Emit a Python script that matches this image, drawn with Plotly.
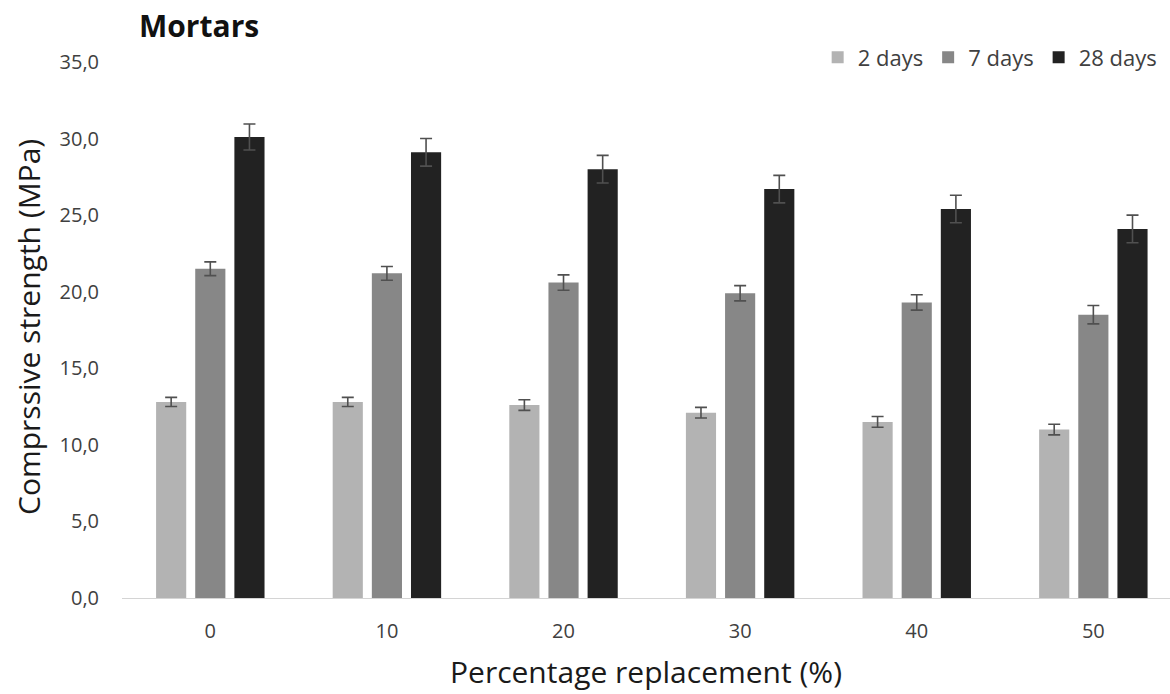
import plotly.graph_objects as go

# Compressive strength of mortars by replacement level and curing age
replacement = ["0", "10", "20", "30", "40", "50"]
strength_2d = [12.8, 12.8, 12.6, 12.1, 11.5, 11.0]
strength_7d = [21.5, 21.2, 20.6, 19.9, 19.3, 18.5]
strength_28d = [30.1, 29.1, 28.0, 26.7, 25.4, 24.1]
err_2d = [0.3, 0.3, 0.35, 0.35, 0.35, 0.35]
err_7d = [0.45, 0.45, 0.5, 0.5, 0.5, 0.6]
err_28d = [0.85, 0.9, 0.9, 0.9, 0.9, 0.9]

series = [
    ("2 days", strength_2d, err_2d, "#b3b3b3"),
    ("7 days", strength_7d, err_7d, "#878787"),
    ("28 days", strength_28d, err_28d, "#222222"),
]

FONT = "Open Sans"
xpos = list(range(len(replacement)))

# plot area in pixels: x 122..1170, y 62..598
L, R, T, B = 122, 1170, 62, 598
W, H = R - L, B - T


def px(x):
    return (x - L) / W


def py(y):
    return (B - y) / H


fig = go.Figure()
for name, vals, errs, color in series:
    fig.add_trace(go.Bar(
        x=xpos, y=vals, name=name,
        marker=dict(color=color, line=dict(width=0)),
        error_y=dict(type="data", array=errs, visible=True,
                     color="#505050", thickness=1.6, width=6),
    ))

fig.update_layout(
    width=1170, height=694,
    margin=dict(l=L, r=1170 - R, t=T, b=694 - B),
    paper_bgcolor="white", plot_bgcolor="white",
    barmode="group", bargap=0.335, bargroupgap=0.23,
    separators=",.",
    font=dict(family=FONT, color="#404040"),
    showlegend=True,
    legend=dict(orientation="h", x=0.993, xanchor="right", y=py(57.5), yanchor="middle",
                font=dict(size=22, color="#404040"), traceorder="normal",
                itemwidth=30, bgcolor="rgba(0,0,0,0)"),
    xaxis=dict(
        range=[-0.5, 5.434], tickmode="array", tickvals=xpos, ticktext=replacement,
        showgrid=False, zeroline=False, showline=True, linecolor="#d4d4d4", linewidth=1,
        ticks="", tickfont=dict(size=20, color="#404040"), ticklabelstandoff=15,
    ),
    yaxis=dict(
        range=[0, 35], tickmode="array", tickvals=[0, 5, 10, 15, 20, 25, 30, 35],
        tickformat=".1f", showgrid=False, zeroline=False, showline=False,
        ticks="", tickfont=dict(size=20, color="#404040"), ticklabelstandoff=22,
    ),
    annotations=[
        dict(text="<b>Mortars</b>", xref="paper", yref="paper",
             x=px(137), y=py(26), xanchor="left", yanchor="middle",
             showarrow=False, font=dict(size=30, color="#111111", family=FONT)),
        dict(text="Percentage replacement (%)", xref="paper", yref="paper",
             x=px(646), y=py(671), xanchor="center", yanchor="middle",
             showarrow=False, font=dict(size=30, color="#1a1a1a", family=FONT)),
        dict(text="Comprssive strength (MPa)", xref="paper", yref="paper",
             x=px(28), y=py(327), xanchor="center", yanchor="middle",
             textangle=-90, showarrow=False, font=dict(size=30, color="#1a1a1a", family=FONT)),
    ],
)

fig.write_html("out.html")
